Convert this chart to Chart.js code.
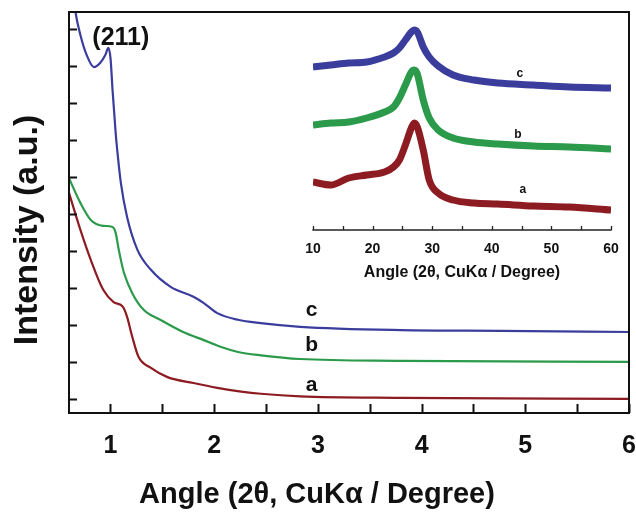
<!DOCTYPE html>
<html>
<head>
<meta charset="utf-8">
<script src="https://cdn.jsdelivr.net/npm/chart.js@4.4.1/dist/chart.umd.min.js"></script>
<style>
  html, body { margin: 0; padding: 0; background: #fff; }
  #wrap { position: relative; width: 636px; height: 513px; }
  #main { position: absolute; left: 0; top: 0; }
  #inset { position: absolute; left: 290px; top: 12px; }
</style>
</head>
<body>
<div id="wrap">
  <canvas id="main" width="636" height="513"></canvas>
  <canvas id="inset" width="346" height="290"></canvas>
</div>
<script>
// small-angle XRD (main plot) - angle in 2theta degrees, intensity in a.u. (offset curves)
const angleA = [0.6, 0.71, 0.81, 0.93, 1.03, 1.12, 1.16, 1.21, 1.27, 1.39, 1.55, 1.80, 2.03, 2.26, 2.45, 2.83, 3.8, 6.0];
const intensityA = [5.57, 4.57, 3.76, 2.95, 2.62, 2.49, 2.22, 1.68, 1.14, 0.84, 0.59, 0.43, 0.30, 0.20, 0.14, 0.07, 0.03, 0.0];

const angleB = [0.6, 0.71, 0.81, 0.93, 1.02, 1.05, 1.08, 1.13, 1.21, 1.32, 1.48, 1.70, 1.90, 2.06, 2.23, 2.45, 2.83, 3.8, 6.0];
const intensityB = [5.97, 5.30, 4.84, 4.68, 4.65, 4.49, 4.03, 3.41, 2.86, 2.41, 2.14, 1.81, 1.59, 1.41, 1.27, 1.18, 1.08, 1.03, 1.0];

const angleC = [0.6, 0.66, 0.71, 0.77, 0.84, 0.90, 0.95, 0.98, 1.0, 1.02, 1.05, 1.07, 1.10, 1.16, 1.26, 1.39, 1.58, 1.80, 1.90, 2.03, 2.23, 2.45, 2.83, 3.8, 4.76, 6.0];
const intensityC = [12.0, 10.5, 9.84, 9.30, 8.97, 9.08, 9.30, 9.49, 9.22, 8.35, 7.19, 6.59, 5.84, 4.92, 4.03, 3.49, 3.03, 2.76, 2.59, 2.32, 2.14, 2.05, 1.95, 1.86, 1.84, 1.81];

// wide-angle XRD (inset) - shared angle grid
const insetAngles = [10, 13, 16, 19, 22, 23.5, 24.5, 25.5, 26.5, 27, 27.5, 28.5, 29.5, 31, 33.5, 37, 41, 47, 53, 60];
const insetA = [48, 45, 52, 55, 58, 63, 70, 85, 102, 107, 103, 80, 50, 37, 30, 27, 26, 24, 23, 20];
const insetB = [105, 107, 108, 112, 118, 123, 132, 145, 158, 160, 156, 130, 112, 100, 92, 88, 86, 84, 83, 81];
const insetC = [163, 165, 167, 168, 173, 177, 182, 190, 198, 200, 198, 183, 173, 164, 155, 150, 147, 145, 143, 142];

const mainXLabels = ['1', '2', '3', '4', '5', '6'];
const insetXLabels = ['10', '20', '30', '40', '50', '60'];
const xTitle = 'Angle (2\u03B8, CuK\u03B1 / Degree)';
const yTitle = 'Intensity (a.u.)';

const COLORS = { a: '#8c1c22', b: '#2b9a4a', c: '#3b3d9c' };
const FONT = "'Liberation Sans', Arial, Helvetica, sans-serif";

function pts(xs, ys) {
  return xs.map((x, i) => ({ x, y: ys[i] }));
}

/* ---------------------------
   Plugins
   --------------------------- */

// frame + inward tick marks, placed from the scales' own ticks
const frameTicks = {
  id: 'frameTicks',
  afterDraw(chart, args, opts) {
    const { ctx, chartArea: a, scales } = chart;
    ctx.save();
    ctx.strokeStyle = opts.color || '#111';
    ctx.lineWidth = opts.lineWidth || 1;
    ctx.lineCap = 'square';
    if (opts.box) {
      ctx.strokeRect(a.left, a.top, a.right - a.left, a.bottom - a.top);
    } else {
      ctx.beginPath();
      ctx.moveTo(a.left, a.bottom);
      ctx.lineTo(a.right, a.bottom);
      ctx.stroke();
    }
    ctx.lineCap = 'butt';
    ctx.beginPath();
    scales.x.ticks.forEach(t => {
      const x = Math.round(scales.x.getPixelForValue(t.value)) + 0.5;
      ctx.moveTo(x, a.bottom);
      ctx.lineTo(x, a.bottom - opts.xTick);
    });
    if (opts.yTick) {
      scales.y.ticks.forEach(t => {
        const y = Math.round(scales.y.getPixelForValue(t.value)) + 0.5;
        ctx.moveTo(a.left, y);
        ctx.lineTo(a.left + opts.yTick, y);
      });
    }
    ctx.stroke();
    ctx.restore();
  }
};

// text notes anchored at data coordinates
const notes = {
  id: 'notes',
  afterDatasetsDraw(chart, args, opts) {
    const { ctx, scales } = chart;
    ctx.save();
    ctx.fillStyle = '#111';
    ctx.textAlign = 'center';
    ctx.textBaseline = 'middle';
    (opts.items || []).forEach(n => {
      ctx.font = n.font;
      ctx.fillText(n.text, scales.x.getPixelForValue(n.x), scales.y.getPixelForValue(n.y));
    });
    ctx.restore();
  }
};

// main axis titles (the originals are centred on the figure, not on the plot box)
const axisTitles = {
  id: 'axisTitles',
  afterDraw(chart, args, opts) {
    const { ctx } = chart;
    ctx.save();
    ctx.fillStyle = '#111';
    ctx.textAlign = 'center';
    ctx.textBaseline = 'middle';
    ctx.font = opts.xFont;
    ctx.fillText(opts.xText, opts.xAt[0], opts.xAt[1]);
    ctx.translate(opts.yAt[0], opts.yAt[1]);
    ctx.rotate(-Math.PI / 2);
    ctx.font = opts.yFont;
    ctx.fillText(opts.yText, 0, 0);
    ctx.restore();
  }
};

/* ---------------------------
   Main chart
   --------------------------- */

function lineSet(label, data, color, width) {
  return {
    label, data,
    borderColor: color,
    backgroundColor: color,
    borderWidth: width,
    pointRadius: 0,
    tension: 0.35,
    cubicInterpolationMode: 'monotone',
    fill: false
  };
}

new Chart(document.getElementById('main').getContext('2d'), {
  type: 'line',
  data: {
    datasets: [
      lineSet('a', pts(angleA, intensityA), COLORS.a, 2.2),
      lineSet('b', pts(angleB, intensityB), COLORS.b, 2.2),
      lineSet('c', pts(angleC, intensityC), COLORS.c, 2.2)
    ]
  },
  options: {
    responsive: false,
    animation: false,
    layout: { padding: { left: 0, right: 7, top: 12, bottom: 0 } },
    plugins: {
      legend: { display: false },
      tooltip: { enabled: false },
      frameTicks: { box: true, lineWidth: 2, color: '#111', xTick: 9, yTick: 8 },
      axisTitles: {
        xText: xTitle, xFont: 'bold 29px ' + FONT, xAt: [317, 495],
        yText: yTitle, yFont: 'bold 34px ' + FONT, yAt: [28, 230]
      },
      notes: {
        items: [
          { text: '(211)', x: 1.1, y: 9.76, font: 'bold 25px ' + FONT },
          { text: 'c', x: 2.94, y: 2.4, font: 'bold 21px ' + FONT },
          { text: 'b', x: 2.94, y: 1.45, font: 'bold 21px ' + FONT },
          { text: 'a', x: 2.94, y: 0.38, font: 'bold 21px ' + FONT }
        ]
      }
    },
    scales: {
      x: {
        type: 'linear',
        min: 0.6,
        max: 6,
        grid: { display: false },
        border: { display: false },
        ticks: {
          stepSize: 0.5,
          includeBounds: false,
          autoSkip: false,
          maxRotation: 0,
          padding: 10,
          color: '#111',
          font: { family: FONT, size: 25, weight: 'bold' },
          callback: v => Number.isInteger(v) ? mainXLabels[v - 1] : ''
        },
        afterFit: s => { s.height = 100; s.paddingLeft = 0; s.paddingRight = 0; }
      },
      y: {
        type: 'linear',
        min: -0.38,
        max: 10.46,
        grid: { display: false },
        border: { display: false },
        ticks: { stepSize: 1, includeBounds: false, display: false },
        afterFit: s => { s.width = 69; }
      }
    }
  },
  plugins: [frameTicks, notes, axisTitles]
});

/* ---------------------------
   Inset chart
   --------------------------- */

new Chart(document.getElementById('inset').getContext('2d'), {
  type: 'line',
  data: {
    datasets: [
      lineSet('a', pts(insetAngles, insetA), COLORS.a, 7),
      lineSet('b', pts(insetAngles, insetB), COLORS.b, 7),
      lineSet('c', pts(insetAngles, insetC), COLORS.c, 7)
    ]
  },
  options: {
    responsive: false,
    animation: false,
    layout: { padding: { left: 23, right: 25, top: 3, bottom: 0 } },
    plugins: {
      legend: { display: false },
      tooltip: { enabled: false },
      frameTicks: { box: false, lineWidth: 1.3, color: '#222', xTick: 4 },
      notes: {
        items: [
          { text: 'c', x: 44.7, y: 156, font: 'bold 12px ' + FONT },
          { text: 'b', x: 44.4, y: 95, font: 'bold 12px ' + FONT },
          { text: 'a', x: 45.2, y: 40, font: 'bold 12px ' + FONT }
        ]
      }
    },
    scales: {
      x: {
        type: 'linear',
        min: 10,
        max: 60,
        grid: { display: false },
        border: { display: false },
        ticks: {
          stepSize: 5,
          autoSkip: false,
          maxRotation: 0,
          padding: 3,
          color: '#111',
          font: { family: FONT, size: 14, weight: 'bold' },
          callback: v => v % 10 === 0 ? insetXLabels[v / 10 - 1] : ''
        },
        title: {
          display: true,
          text: xTitle,
          color: '#111',
          font: { family: FONT, size: 16, weight: 'bold' },
          padding: { top: 0, bottom: 20 }
        },
        afterFit: s => { s.height = 72; s.paddingLeft = 0; s.paddingRight = 0; }
      },
      y: {
        type: 'linear',
        min: 0,
        max: 215,
        display: false
      }
    }
  },
  plugins: [frameTicks, notes]
});
</script>
</body>
</html>
